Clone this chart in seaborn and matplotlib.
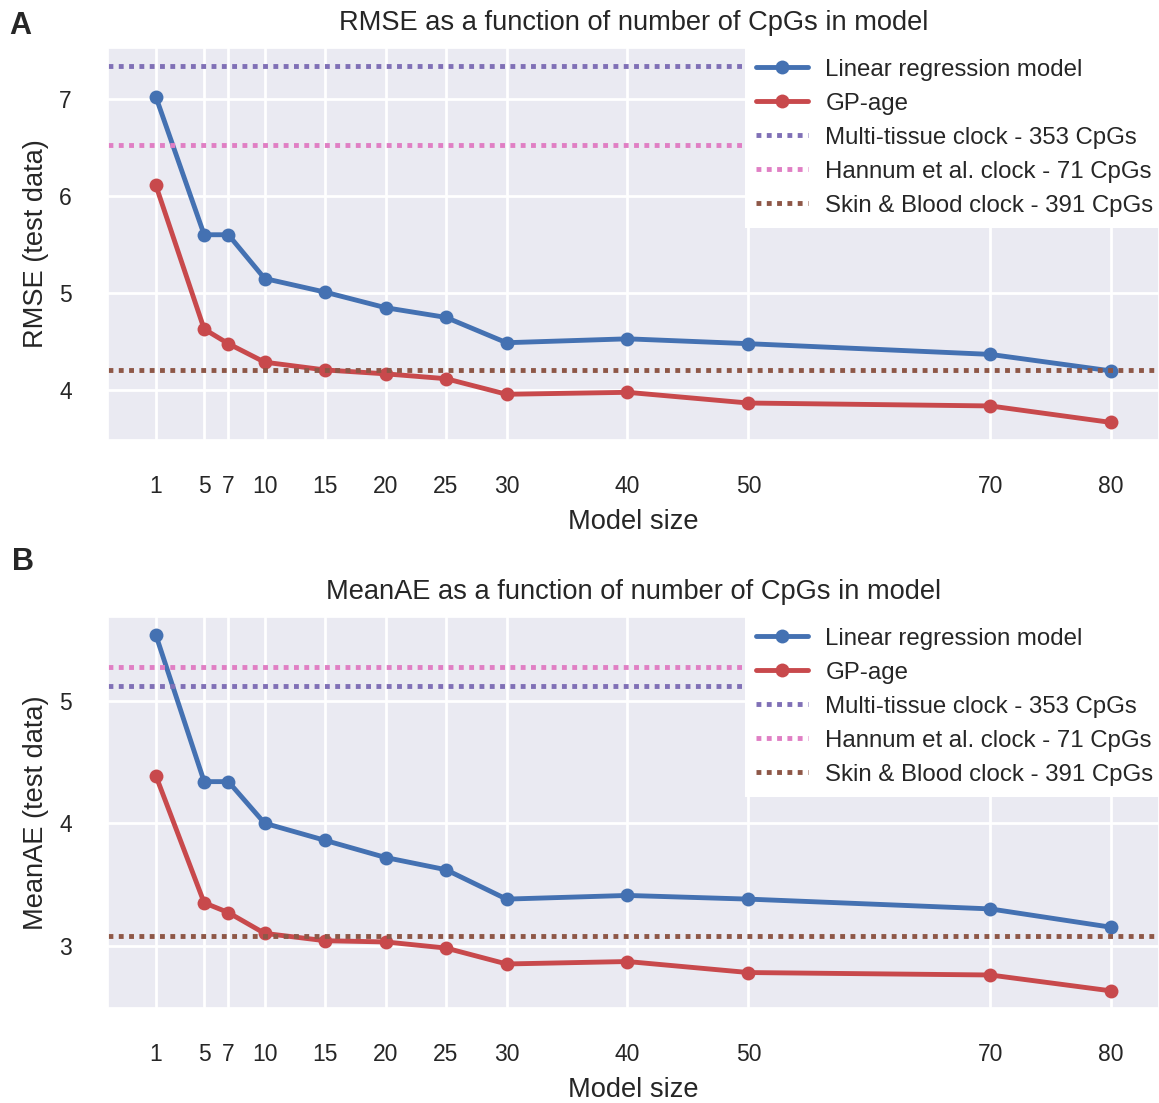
import numpy as np
import pandas as pd
import matplotlib
matplotlib.use("Agg")
import matplotlib.pyplot as plt
import seaborn as sns

# ---- data ----
model_sizes = [1, 5, 7, 10, 15, 20, 25, 30, 40, 50, 70, 80]
rmse_linear = [7.02, 5.60, 5.60, 5.15, 5.01, 4.85, 4.75, 4.49, 4.53, 4.48, 4.37, 4.20]
rmse_gp = [6.11, 4.63, 4.48, 4.29, 4.21, 4.17, 4.12, 3.96, 3.98, 3.87, 3.84, 3.67]
mae_linear = [5.54, 4.34, 4.34, 4.00, 3.86, 3.72, 3.62, 3.38, 3.41, 3.38, 3.30, 3.15]
mae_gp = [4.39, 3.35, 3.27, 3.10, 3.04, 3.03, 2.98, 2.85, 2.87, 2.78, 2.76, 2.63]

clock_names = ["Multi-tissue clock - 353 CpGs", "Hannum et al. clock - 71 CpGs",
               "Skin & Blood clock - 391 CpGs"]
rmse_clocks = [7.33, 6.52, 4.21]
mae_clocks = [5.12, 5.28, 3.08]

model_names = ["Linear regression model", "GP-age"]
titles = ["RMSE as a function of number of CpGs in model",
          "MeanAE as a function of number of CpGs in model"]
ylabels = ["RMSE (test data)", "MeanAE (test data)"]
yticks_list = [[4, 5, 6, 7], [3, 4, 5]]
panel_labels = ["A", "B"]

# ---- style ----
sns.set_theme(style="darkgrid")
plt.rcParams["font.family"] = ["Liberation Sans", "DejaVu Sans"]
plt.rcParams["grid.linewidth"] = 2.0
for k in ["text.color", "axes.labelcolor", "xtick.color", "ytick.color"]:
    plt.rcParams[k] = "#262626"

line_colors = ["#4471B2", "#C8494C"]
clock_colors = ["#8070B6", "#E07FC4", "#8E5747"]
LW = 3.5
DOT = (0, (1, 1.12))

fig = plt.figure(figsize=(11.59, 11.03), dpi=100)
ax_top = fig.add_axes([0.0932, 0.6011, 0.9068, 0.3554])
ax_bot = fig.add_axes([0.0932, 0.0861, 0.9068, 0.3545])

panels = [
    (ax_top, rmse_linear, rmse_gp, rmse_clocks, (3.49, 7.52)),
    (ax_bot, mae_linear, mae_gp, mae_clocks, (2.49, 5.685)),
]

for i, (ax, lin, gp, clocks, ylim) in enumerate(panels):
    df = pd.DataFrame({
        "size": model_sizes * 2,
        "value": lin + gp,
        "model": [model_names[0]] * len(model_sizes) + [model_names[1]] * len(model_sizes),
    })
    sns.lineplot(data=df, x="size", y="value", hue="model", palette=line_colors,
                 marker="o", markersize=10, markeredgewidth=0, linewidth=LW,
                 ax=ax, legend=False)
    for cv, cn, cc in zip(clocks, clock_names, clock_colors):
        ax.axhline(cv, color=cc, linestyle=DOT, linewidth=LW, label=cn)

    handles = [plt.Line2D([], [], color=c, marker="o", markersize=10,
                          markeredgewidth=0, linewidth=LW) for c in line_colors]
    handles += [plt.Line2D([], [], color=c, linestyle=DOT, linewidth=LW)
                for c in clock_colors]
    leg = ax.legend(handles, model_names + clock_names, loc="upper right",
                    bbox_to_anchor=(1.005, 1.0),
                    borderaxespad=0, fontsize=17.3, frameon=True, framealpha=1,
                    facecolor="white", edgecolor="white", fancybox=False,
                    handlelength=2.2, labelspacing=0.5, borderpad=0.45,
                    handletextpad=0.7)
    leg.get_frame().set_linewidth(0)

    ax.set_xlim(-2.95, 83.95)
    ax.set_ylim(*ylim)
    ax.set_xticks(model_sizes)
    ax.set_xticklabels([str(s) for s in model_sizes])
    ax.set_yticks(yticks_list[i])
    ax.tick_params(axis="x", labelsize=16.5, pad=25, length=0)
    ax.tick_params(axis="y", labelsize=16.5, pad=26, length=0)
    ax.set_xlabel("Model size", fontsize=19.6, labelpad=8)
    ax.set_ylabel(ylabels[i], fontsize=19.6, labelpad=7)
    ax.set_title(titles[i], fontsize=19.6, pad=13)

fig.text(0.008, 0.990, panel_labels[0], fontsize=22, fontweight="bold", va="top", ha="left")
fig.text(0.010, 0.504, panel_labels[1], fontsize=22, fontweight="bold", va="top", ha="left")

fig.savefig("out.png", dpi=100, facecolor="white")
